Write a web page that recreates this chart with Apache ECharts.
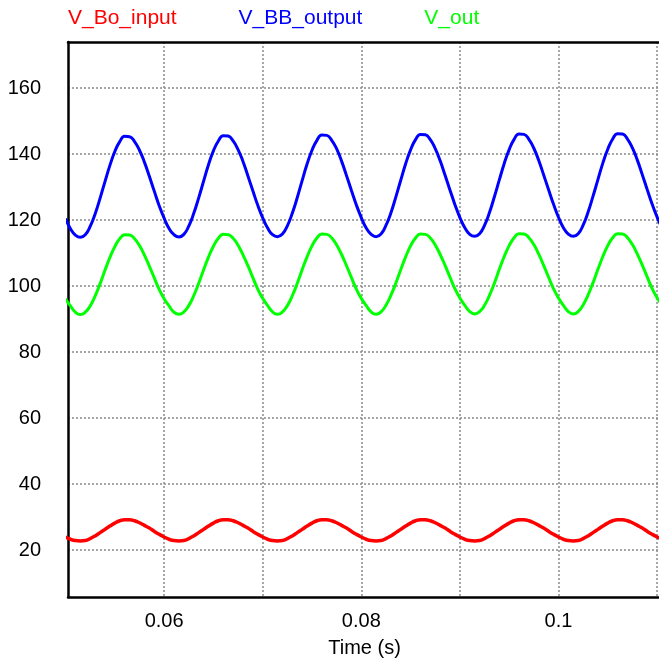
<!DOCTYPE html>
<html>
<head>
<meta charset="utf-8">
<title>V_Bo_input / V_BB_output / V_out</title>
<script src="https://cdn.jsdelivr.net/npm/echarts@6/dist/echarts.min.js"></script>
<style>
  html, body { margin: 0; padding: 0; background: #fff; }
  #main { width: 659px; height: 662px; }
</style>
</head>
<body>
<div id="main"></div>
<script>
// sample times (s), 0.5 ms apart
var times = [
  0.0500, 0.0505, 0.0510, 0.0515, 0.0520, 0.0525, 0.0530, 0.0535, 0.0540, 0.0545,
  0.0550, 0.0555, 0.0560, 0.0565, 0.0570, 0.0575, 0.0580, 0.0585, 0.0590, 0.0595,
  0.0600, 0.0605, 0.0610, 0.0615, 0.0620, 0.0625, 0.0630, 0.0635, 0.0640, 0.0645,
  0.0650, 0.0655, 0.0660, 0.0665, 0.0670, 0.0675, 0.0680, 0.0685, 0.0690, 0.0695,
  0.0700, 0.0705, 0.0710, 0.0715, 0.0720, 0.0725, 0.0730, 0.0735, 0.0740, 0.0745,
  0.0750, 0.0755, 0.0760, 0.0765, 0.0770, 0.0775, 0.0780, 0.0785, 0.0790, 0.0795,
  0.0800, 0.0805, 0.0810, 0.0815, 0.0820, 0.0825, 0.0830, 0.0835, 0.0840, 0.0845,
  0.0850, 0.0855, 0.0860, 0.0865, 0.0870, 0.0875, 0.0880, 0.0885, 0.0890, 0.0895,
  0.0900, 0.0905, 0.0910, 0.0915, 0.0920, 0.0925, 0.0930, 0.0935, 0.0940, 0.0945,
  0.0950, 0.0955, 0.0960, 0.0965, 0.0970, 0.0975, 0.0980, 0.0985, 0.0990, 0.0995,
  0.1000, 0.1005, 0.1010, 0.1015, 0.1020, 0.1025, 0.1030, 0.1035, 0.1040, 0.1045,
  0.1050, 0.1055, 0.1060, 0.1065, 0.1070, 0.1075, 0.1080, 0.1085, 0.1090, 0.1095,
  0.1100, 0.1105, 0.1110
];

var vBoInput = [
  24.0, 23.3, 22.9, 22.8, 22.9, 23.5, 24.3, 25.3, 26.3, 27.3, 28.2, 28.9, 29.2, 29.2, 28.9, 28.3, 27.5, 26.7, 25.7, 24.8,
  24.0, 23.3, 22.9, 22.8, 22.9, 23.5, 24.3, 25.3, 26.3, 27.3, 28.2, 28.9, 29.2, 29.2, 28.9, 28.3, 27.5, 26.7, 25.7, 24.8,
  24.0, 23.3, 22.9, 22.8, 22.9, 23.5, 24.3, 25.3, 26.3, 27.3, 28.2, 28.9, 29.2, 29.2, 28.9, 28.3, 27.5, 26.7, 25.7, 24.8,
  24.0, 23.3, 22.9, 22.8, 22.9, 23.5, 24.3, 25.3, 26.3, 27.3, 28.2, 28.9, 29.2, 29.2, 28.9, 28.3, 27.5, 26.7, 25.7, 24.8,
  24.0, 23.3, 22.9, 22.8, 22.9, 23.5, 24.3, 25.3, 26.3, 27.3, 28.2, 28.9, 29.2, 29.2, 28.9, 28.3, 27.5, 26.7, 25.7, 24.8,
  24.0, 23.3, 22.9, 22.8, 22.9, 23.5, 24.3, 25.3, 26.3, 27.3, 28.2, 28.9, 29.2, 29.2, 28.9, 28.3, 27.5, 26.7, 25.7, 24.8,
  24.0, 23.3, 22.9
];

var vBBOutput = [
  120.5, 117.4, 115.5, 114.8, 115.6, 118.1, 121.9, 126.6, 131.7, 136.6, 140.8, 143.8, 145.4, 145.3, 143.8, 141.2, 137.6, 133.3, 128.8, 124.4,
  120.6, 117.5, 115.6, 114.9, 115.7, 118.2, 122.0, 126.7, 131.8, 136.8, 141.0, 144.0, 145.6, 145.5, 144.0, 141.4, 137.8, 133.4, 128.9, 124.5,
  120.7, 117.6, 115.6, 115.0, 115.8, 118.3, 122.1, 126.8, 132.0, 137.0, 141.2, 144.2, 145.8, 145.7, 144.2, 141.6, 137.9, 133.5, 129.0, 124.6,
  120.8, 117.6, 115.7, 115.0, 115.8, 118.4, 122.2, 127.0, 132.1, 137.1, 141.3, 144.4, 146.0, 145.9, 144.4, 141.7, 138.0, 133.6, 129.1, 124.7,
  120.8, 117.7, 115.7, 115.1, 115.9, 118.4, 122.3, 127.1, 132.2, 137.2, 141.4, 144.5, 146.1, 146.0, 144.5, 141.8, 138.1, 133.7, 129.2, 124.8,
  120.9, 117.7, 115.8, 115.1, 115.9, 118.5, 122.4, 127.2, 132.3, 137.3, 141.5, 144.6, 146.2, 146.1, 144.6, 141.9, 138.2, 133.8, 129.3, 124.9,
  121.0, 117.8, 115.8
];

var vOut = [
  96.2, 94.0, 92.1, 91.4, 92.1, 94.0, 97.0, 100.7, 104.8, 108.7, 112.0, 114.4, 115.6, 115.5, 114.4, 112.3, 109.4, 106.1, 102.5, 99.0,
  96.2, 94.0, 92.1, 91.5, 92.2, 94.1, 97.1, 100.8, 104.9, 108.8, 112.1, 114.5, 115.7, 115.6, 114.5, 112.4, 109.5, 106.2, 102.6, 99.1,
  96.3, 94.1, 92.2, 91.5, 92.2, 94.1, 97.1, 100.8, 105.0, 108.9, 112.2, 114.6, 115.8, 115.7, 114.6, 112.5, 109.6, 106.2, 102.6, 99.1,
  96.3, 94.1, 92.2, 91.5, 92.2, 94.2, 97.2, 100.9, 105.0, 108.9, 112.2, 114.6, 115.8, 115.7, 114.6, 112.5, 109.6, 106.3, 102.7, 99.2,
  96.4, 94.2, 92.3, 91.6, 92.3, 94.2, 97.2, 100.9, 105.1, 109.0, 112.3, 114.7, 115.9, 115.8, 114.7, 112.6, 109.7, 106.3, 102.7, 99.2,
  96.4, 94.2, 92.3, 91.6, 92.3, 94.3, 97.3, 101.0, 105.1, 109.0, 112.3, 114.7, 115.9, 115.8, 114.7, 112.6, 109.7, 106.4, 102.8, 99.3,
  96.5, 94.3, 92.3
];

var xGridTicks = [0.06, 0.07, 0.08, 0.09, 0.1, 0.11];
var xLabelTicks = [0.06, 0.08, 0.1];
var yTicks = [20, 40, 60, 80, 100, 120, 140, 160];

function pairs(xs, ys) {
    var out = [];
    for (var i = 0; i < xs.length; i++) {
        out.push([xs[i], ys[i]]);
    }
    return out;
}

var FONT = '"Liberation Sans", Arial, sans-serif';
var gridLine = { show: true, lineStyle: { color: '#8a8a8a', width: 1.5, type: [2, 2] } };

var myChart = echarts.init(document.getElementById('main'));

var option = {
    animation: false,
    backgroundColor: '#ffffff',
    legend: {
        left: 57,
        top: 3,
        itemWidth: 0,
        itemHeight: 0,
        itemGap: 56,
        textStyle: { fontFamily: FONT, fontSize: 21 },
        data: [
            { name: 'V_Bo_input', textStyle: { color: '#ff0000' } },
            { name: 'V_BB_output', textStyle: { color: '#0000ff' } },
            { name: 'V_out', textStyle: { color: '#00ff00' } }
        ]
    },
    grid: { left: 68, right: -2, top: 42, bottom: 65, outerBoundsMode: 'none' },
    xAxis: [{
        type: 'value',
        min: 0.05025,
        max: 0.1104,
        name: 'Time (s)',
        nameLocation: 'middle',
        nameGap: 41,
        nameTextStyle: { fontFamily: FONT, fontSize: 20, color: '#000' },
        axisLine: { show: true, lineStyle: { color: '#000', width: 2.5 } },
        axisTick: { show: false, customValues: xGridTicks },
        axisLabel: {
            customValues: xLabelTicks,
            fontFamily: FONT, fontSize: 20, color: '#000', margin: 14
        },
        splitLine: gridLine
    }, {
        type: 'value',
        position: 'top',
        min: 0.05025,
        max: 0.1104,
        axisLine: { show: true, onZero: false, lineStyle: { color: '#000', width: 2.5 } },
        axisTick: { show: false },
        axisLabel: { show: false },
        splitLine: { show: false }
    }],
    yAxis: {
        type: 'value',
        min: 5.8,
        max: 174,
        axisLine: { show: true, onZero: false, lineStyle: { color: '#000', width: 2.5 } },
        axisTick: { show: false, customValues: yTicks },
        axisLabel: {
            customValues: yTicks,
            fontFamily: FONT, fontSize: 20, color: '#000', margin: 27
        },
        splitLine: gridLine
    },
    series: [{
        name: 'V_Bo_input',
        type: 'line',
        showSymbol: false,
        smooth: true,
        color: '#ff0000',
        lineStyle: { width: 3.5 },
        data: pairs(times, vBoInput)
    }, {
        name: 'V_BB_output',
        type: 'line',
        showSymbol: false,
        smooth: true,
        color: '#0000ff',
        lineStyle: { width: 3 },
        data: pairs(times, vBBOutput)
    }, {
        name: 'V_out',
        type: 'line',
        showSymbol: false,
        smooth: true,
        color: '#00ff00',
        lineStyle: { width: 3 },
        data: pairs(times, vOut)
    }]
};

myChart.setOption(option);
</script>
</body>
</html>
